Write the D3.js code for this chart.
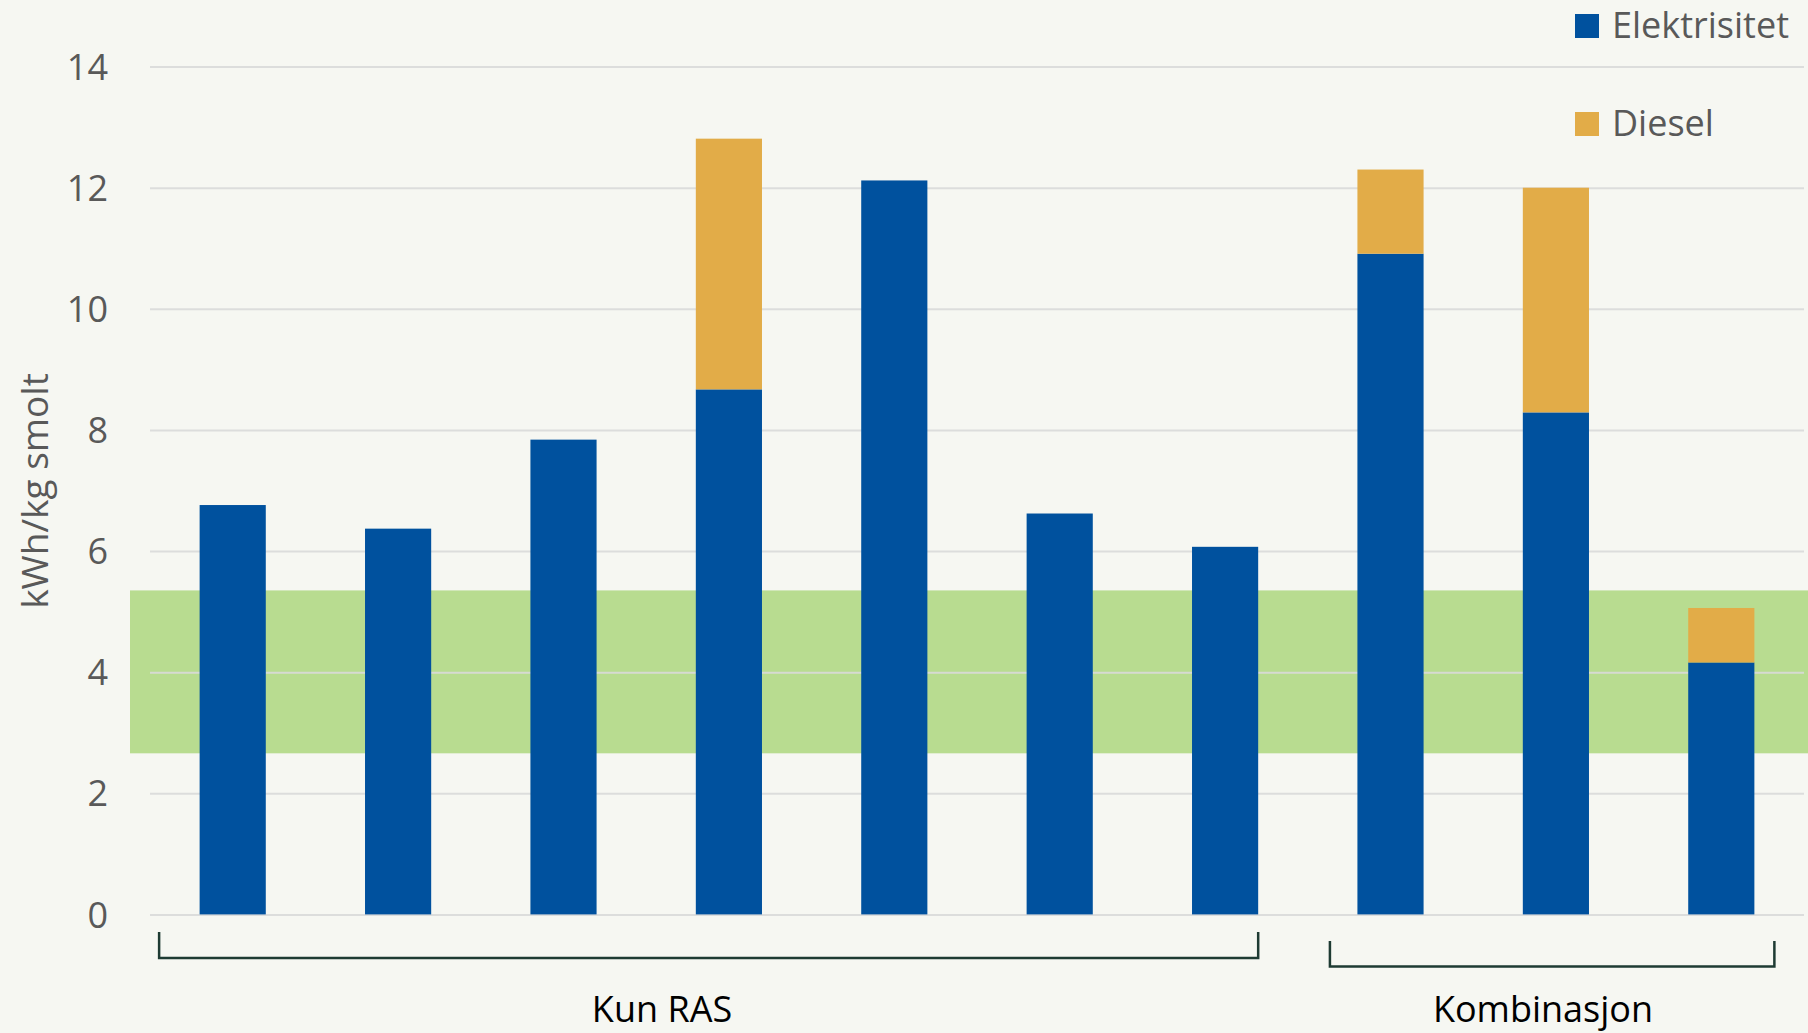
<!DOCTYPE html>
<html>
<head>
<meta charset="utf-8">
<script src="https://cdn.jsdelivr.net/npm/d3@7"></script>
<style>
  html, body { margin: 0; padding: 0; background: #f6f7f2; }
  svg { display: block; }
  text { font-family: "Open Sans", "Noto Sans", sans-serif; }
</style>
</head>
<body>
<svg id="chart" width="1808" height="1033"></svg>
<script>
// ---- data ----
const categories = ["1", "2", "3", "4", "5", "6", "7", "8", "9", "10"];
const elektrisitet = [6.76, 6.37, 7.84, 8.67, 12.12, 6.62, 6.07, 10.91, 8.29, 4.16];
const diesel =       [0,    0,    0,    4.14, 0,     0,    0,    1.39,  3.71, 0.90];
const seriesNames = ["Elektrisitet", "Diesel"];
const yTicks = [0, 2, 4, 6, 8, 10, 12, 14];
const targetBand = [2.66, 5.35];
const groupNames = ["Kun RAS", "Kombinasjon"];
const groupFirst = [0, 7];
const groupLast = [6, 9];
const yTitle = "kWh/kg smolt";

// ---- layout ----
const W = 1808, H = 1033;
const plot = { left: 150, right: 1804, top: 66, bottom: 914.4 };
const colors = { Elektrisitet: "#00519e", Diesel: "#e2ac48" };

const svg = d3.select("#chart");
svg.append("rect").attr("width", W).attr("height", H).attr("fill", "#f6f7f2");

const x = d3.scaleBand().domain(categories).range([plot.left, plot.right])
  .paddingInner(0.6).paddingOuter(0.3);
const y = d3.scaleLinear().domain([0, 14]).range([plot.bottom, plot.top + 0.6]);

// green band
svg.append("rect")
  .attr("x", 130).attr("width", W - 130)
  .attr("y", y(targetBand[1])).attr("height", y(targetBand[0]) - y(targetBand[1]))
  .attr("fill", "#b8dc90");

// gridlines + tick labels via axis
const yAxis = d3.axisLeft(y).tickValues(yTicks).tickSize(-(plot.right - plot.left)).tickPadding(42).tickFormat(d3.format("d"));
const gAxis = svg.append("g").attr("transform", `translate(${plot.left},0)`).call(yAxis);
gAxis.select(".domain").remove();
gAxis.selectAll(".tick line").attr("stroke", "#d9d9d9").attr("stroke-width", 2).attr("stroke-opacity", 0.9);
gAxis.selectAll(".tick text").attr("fill", "#595959").attr("font-size", 36)
  .attr("font-family", "'Open Sans', sans-serif").attr("dy", "0.35em");

// stacked bars
const rows = categories.map((c, i) => ({ cat: c, Elektrisitet: elektrisitet[i], Diesel: diesel[i] }));
const stack = d3.stack().keys(seriesNames)(rows);
svg.append("g").selectAll("g").data(stack).join("g")
  .attr("fill", d => colors[d.key])
  .selectAll("rect").data(d => d.filter(p => p[1] - p[0] > 0)).join("rect")
  .attr("x", d => x(d.data.cat))
  .attr("width", x.bandwidth())
  .attr("y", d => y(d[1]))
  .attr("height", d => y(d[0]) - y(d[1]));

// y title
svg.append("text")
  .attr("transform", `translate(48,491) rotate(-90)`)
  .attr("text-anchor", "middle")
  .attr("fill", "#595959").attr("font-size", 37)
  .text(yTitle);

// legend
const legend = svg.append("g");
seriesNames.forEach((s, i) => {
  const ly = 14 + i * 98;
  legend.append("rect").attr("x", 1575).attr("y", ly).attr("width", 24).attr("height", 24).attr("fill", colors[s]);
  legend.append("text").attr("x", 1612).attr("y", ly + 24).attr("fill", "#595959")
    .attr("font-size", 36).text(s);
});

// group brackets
const bracketDefs = [
  { left: x(categories[groupFirst[0]]) - 40.5, right: x(categories[groupLast[0]]) + x.bandwidth(), top: 932, bottom: 958, labelX: 662 },
  { left: x(categories[groupFirst[1]]) - 27.5, right: x(categories[groupLast[1]]) + x.bandwidth() + 20, top: 941, bottom: 966.5, labelX: 1543 }
];
bracketDefs.forEach((b, i) => {
  svg.append("path")
    .attr("d", `M${b.left},${b.top}V${b.bottom}H${b.right}V${b.top}`)
    .attr("fill", "none").attr("stroke", "#1e3b33").attr("stroke-width", 2.5);
  svg.append("text").attr("x", b.labelX).attr("y", 1022).attr("text-anchor", "middle")
    .attr("fill", "#000").attr("font-size", 36).text(groupNames[i]);
});
</script>
</body>
</html>
